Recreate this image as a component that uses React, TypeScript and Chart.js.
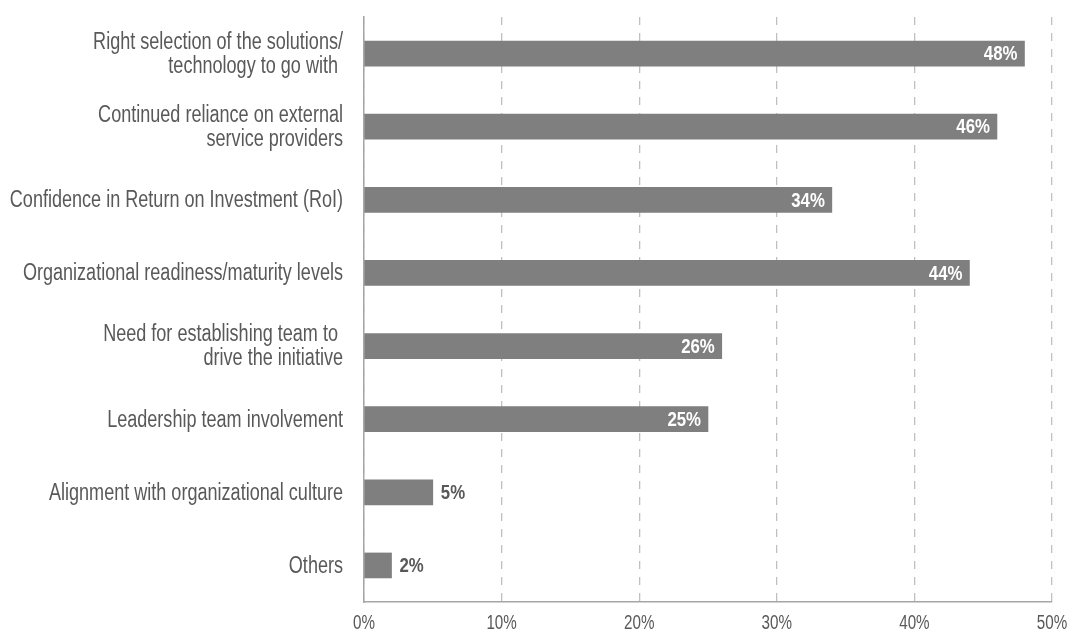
import React, { useEffect, useRef } from "react";
import { Chart, registerables } from "chart.js";

Chart.register(...registerables);

const categories: (string | string[])[] = [
  ["Right selection of the solutions/", "technology to go with "],
  ["Continued reliance on external", "service providers"],
  "Confidence in Return on Investment (RoI)",
  "Organizational readiness/maturity levels",
  ["Need for establishing team to ", "drive the initiative"],
  "Leadership team involvement",
  "Alignment with organizational culture",
  "Others",
];

const values: number[] = [48, 46, 34, 44, 26, 25, 5, 2];

const tickValues: number[] = [0, 10, 20, 30, 40, 50];

const FONT = "'Liberation Sans', Arial, sans-serif";
const BAR_COLOR = "#7f7f7f";
const TEXT_COLOR = "#595959";

function drawCondensed(
  ctx: CanvasRenderingContext2D,
  text: string,
  x: number,
  y: number,
  align: CanvasTextAlign,
  sx: number
) {
  ctx.save();
  ctx.translate(x, y);
  ctx.scale(sx, 1);
  ctx.textAlign = align;
  ctx.fillText(text, 0, 0);
  ctx.restore();
}

const textPlugin = {
  id: "textPlugin",
  afterDraw(chart: any) {
    const ctx: CanvasRenderingContext2D = chart.ctx;
    const xs = chart.scales.x;
    const ys = chart.scales.y;
    const meta = chart.getDatasetMeta(0);
    ctx.save();
    ctx.textBaseline = "middle";

    // category labels
    ctx.font = `23px ${FONT}`;
    ctx.fillStyle = TEXT_COLOR;
    const lineH = 24;
    categories.forEach((lab, i) => {
      const cy = ys.getPixelForTick(i);
      const lines = Array.isArray(lab) ? lab : [lab];
      const start = cy - ((lines.length - 1) * lineH) / 2;
      lines.forEach((ln, j) => {
        drawCondensed(ctx, ln, xs.left - 21, start + j * lineH + 1, "right", 0.785);
      });
    });

    // x tick labels
    ctx.font = `20px ${FONT}`;
    ctx.fillStyle = TEXT_COLOR;
    tickValues.forEach((v) => {
      const px = xs.getPixelForValue(v);
      drawCondensed(ctx, `${v}%`, px, xs.top + 21, "center", 0.76);
    });

    // value labels
    ctx.font = `bold 21px ${FONT}`;
    meta.data.forEach((bar: any, i: number) => {
      const v = values[i];
      const text = `${v}%`;
      if (v >= 10) {
        ctx.fillStyle = "#ffffff";
        drawCondensed(ctx, text, bar.x - 7, bar.y + 1, "right", 0.8);
      } else {
        ctx.fillStyle = TEXT_COLOR;
        drawCondensed(ctx, text, bar.x + 8, bar.y + 1, "left", 0.8);
      }
    });
    ctx.restore();
  },
};

export default function App() {
  const canvasRef = useRef<HTMLCanvasElement | null>(null);

  useEffect(() => {
    if (!canvasRef.current) return;
    const chart = new Chart(canvasRef.current, {
      type: "bar",
      data: {
        labels: categories,
        datasets: [
          {
            data: values,
            backgroundColor: BAR_COLOR,
            barThickness: 25,
          },
        ],
      },
      options: {
        indexAxis: "y",
        animation: false,
        responsive: false,
        maintainAspectRatio: false,
        layout: { padding: { top: 17, right: 17, left: 0, bottom: 0 } },
        plugins: {
          legend: { display: false },
          tooltip: { enabled: false },
        },
        scales: {
          x: {
            min: 0,
            max: 50,
            afterBuildTicks: (scale: any) => {
              scale.ticks = tickValues.map((v) => ({ value: v }));
            },
            afterFit: (scale: any) => {
              scale.height = 32;
              scale.paddingLeft = 0;
              scale.paddingRight = 0;
            },
            grid: {
              color: "#c0c0c0",
              lineWidth: 1.3,
              drawTicks: false,
            },
            border: {
              display: true,
              color: "#a6a6a6",
              width: 1.5,
              dash: [8, 8],
            },
            ticks: { display: false },
          },
          y: {
            afterFit: (scale: any) => {
              scale.width = 364;
              scale.paddingTop = 0;
              scale.paddingBottom = 0;
            },
            grid: { display: false, drawTicks: false },
            border: { display: true, color: "#a6a6a6", width: 1.5 },
            ticks: { display: false },
          },
        },
      },
      plugins: [textPlugin],
    });
    return () => chart.destroy();
  }, []);

  return (
    <div style={{ position: "fixed", left: 0, top: 0, width: 1069, height: 634, background: "#fff" }}>
      <canvas ref={canvasRef} width={1069} height={634} style={{ width: 1069, height: 634 }} />
    </div>
  );
}
